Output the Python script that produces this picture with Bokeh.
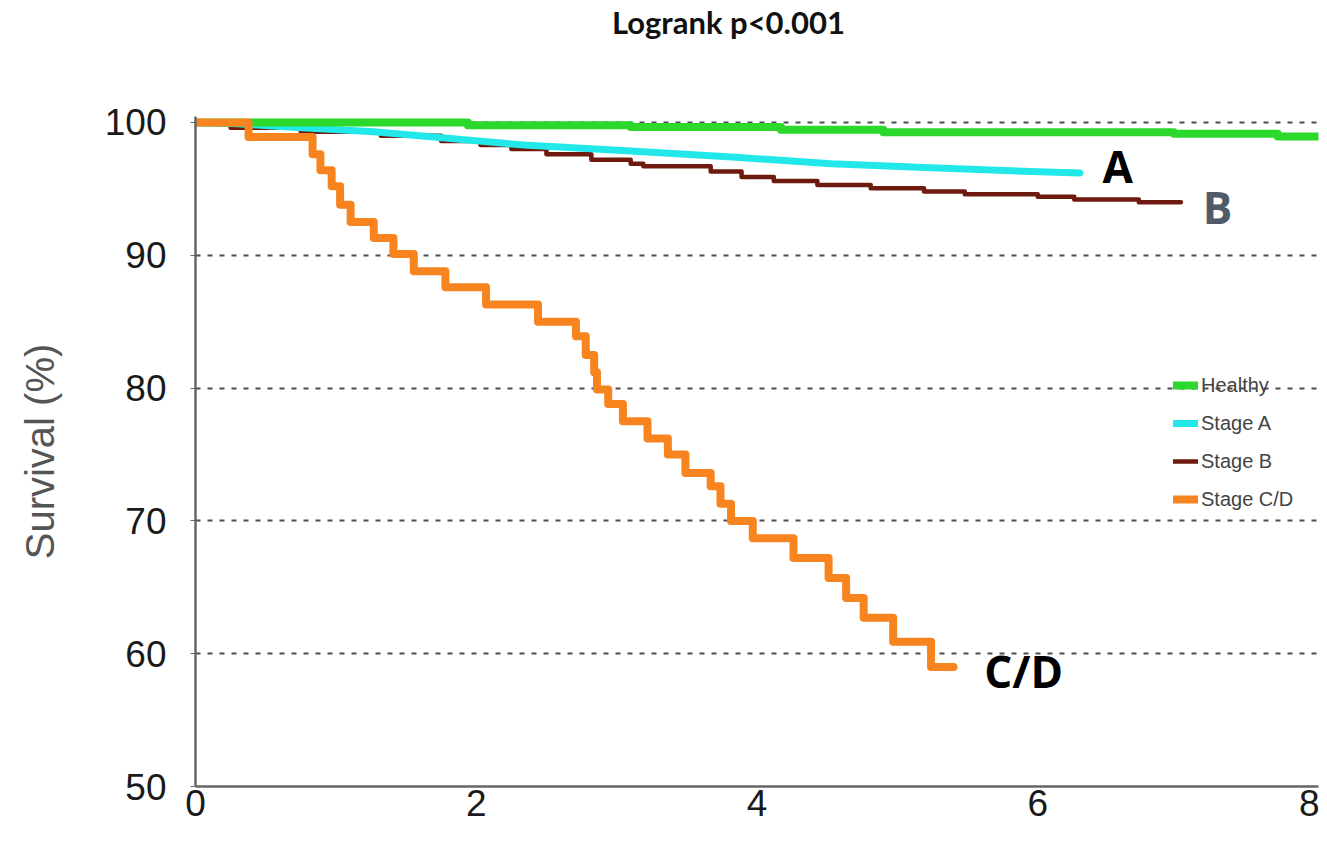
from bokeh.plotting import figure
from bokeh.models import Legend, LegendItem, FixedTicker, Range1d, Div
from bokeh.layouts import column
from bokeh.core.properties import value
from bokeh.embed import file_html
from bokeh.resources import INLINE

# ---- data ----
title_text = "Logrank p<0.001"
y_label = "Survival (%)"
x_ticks = [0, 2, 4, 6, 8]
y_ticks = [50, 60, 70, 80, 90, 100]
grid_ticks = [60, 70, 80, 90, 100]

healthy_t = [0, 1.94, 3.1, 4.17, 4.9, 6.97, 7.71, 8.0]
healthy_s = [100, 99.8, 99.65, 99.45, 99.27, 99.15, 98.95, 98.95]

stageA_t = [0, 0.3, 0.6, 1.27, 2.34, 3.1, 3.82, 4.53, 5.24, 5.95, 6.3]
stageA_s = [100, 99.9, 99.7, 99.3, 98.3, 97.85, 97.4, 96.9, 96.6, 96.3, 96.2]

stageB_t = [0, 0.25, 0.75, 1.32, 1.75, 2.03, 2.25, 2.5, 2.82, 3.1, 3.19, 3.67,
            3.89, 4.12, 4.43, 4.81, 5.19, 5.48, 6.0, 6.26, 6.72, 7.02]
stageB_s = [100, 99.6, 99.3, 99.0, 98.6, 98.3, 98.0, 97.6, 97.2, 96.9, 96.7, 96.3,
            95.9, 95.6, 95.3, 95.05, 94.8, 94.6, 94.4, 94.2, 94.0, 94.0]

stageCD_t = [0, 0.378, 0.834, 0.89, 0.97, 1.03, 1.105, 1.27, 1.41, 1.555, 1.78,
             2.07, 2.44, 2.71, 2.78, 2.84, 2.86, 2.94, 3.045, 3.22, 3.365, 3.49,
             3.67, 3.74, 3.815, 3.97, 4.26, 4.51, 4.635, 4.76, 4.97, 5.24, 5.40]
stageCD_s = [100, 98.9, 97.6, 96.4, 95.2, 93.8, 92.5, 91.3, 90.1, 88.8, 87.6,
             86.3, 85.0, 83.9, 82.5, 81.2, 79.9, 78.8, 77.5, 76.2, 75.0, 73.6,
             72.6, 71.3, 70.0, 68.7, 67.2, 65.7, 64.2, 62.7, 60.9, 59.0, 59.0]

series_names = ["Healthy", "Stage A", "Stage B", "Stage C/D"]
series_colors = ["#2bd82b", "#22e8ea", "#6e1a0e", "#f7841e"]

end_labels = ["A", "B", "C/D"]
end_label_x = [6.57, 7.28, 5.9]
end_label_y = [96.76, 93.6, 58.66]
end_label_colors = ["#000000", "#4f5b66", "#000000"]

# ---- title ----
title = Div(text=title_text, width=300, height=40, margin=(0, 0, 0, 612),
            styles={"font-family": "Lato", "font-weight": "bold",
                    "font-size": "31px", "line-height": "44px",
                    "color": "#111111", "white-space": "nowrap"})

# ---- figure ----
p = figure(width=1319, height=794, output_backend="svg", toolbar_location=None,
           x_range=Range1d(0, 8), y_range=Range1d(50, 100.45),
           min_border_left=195, min_border_right=1, min_border_top=76,
           min_border_bottom=48)
p.outline_line_color = None
p.background_fill_color = "white"
p.border_fill_color = "white"

# axes
for ax in (p.xaxis, p.yaxis):
    ax.axis_line_color = "#666666"
    ax.axis_line_width = 2.5
    ax.major_label_text_font = "Liberation Sans"
    ax.major_label_text_font_size = "37px"
    ax.major_label_text_color = "#1a1a1a"
    ax.minor_tick_line_color = None
    ax.major_tick_line_color = "#666666"

p.xaxis.ticker = FixedTicker(ticks=x_ticks)
p.xaxis.major_tick_out = 0
p.xaxis.major_tick_in = 0
p.xaxis.major_label_standoff = 3

p.yaxis.ticker = FixedTicker(ticks=y_ticks)
p.yaxis.major_tick_out = 5
p.yaxis.major_tick_in = 0
p.yaxis.major_label_standoff = 24
p.yaxis.axis_label = y_label
p.yaxis.axis_label_text_font = "Liberation Sans"
p.yaxis.axis_label_text_font_style = "normal"
p.yaxis.axis_label_text_font_size = "40px"
p.yaxis.axis_label_text_color = "#555555"
p.yaxis.axis_label_standoff = 40

p.xgrid.visible = False
p.ygrid.ticker = FixedTicker(ticks=grid_ticks)
p.ygrid.grid_line_color = "#4d4d4d"
p.ygrid.grid_line_width = 2
p.ygrid.grid_line_dash = "5 7"

# curves
rB = p.step(stageB_t, stageB_s, mode="after", line_color=series_colors[2],
            line_width=4.5, line_join="round", line_cap="round")
rA = p.line(stageA_t, stageA_s, line_color=series_colors[1], line_width=7,
            line_join="round", line_cap="round")
rH = p.step(healthy_t, healthy_s, mode="after", line_color=series_colors[0],
            line_width=8, line_join="round", line_cap="round")
rC = p.step(stageCD_t, stageCD_s, mode="after", line_color=series_colors[3],
            line_width=8, line_join="round", line_cap="round")

# end labels
p.text(x=end_label_x, y=end_label_y, text=end_labels, text_color=end_label_colors,
       text_font=value("Open Sans"), text_font_style="bold", text_font_size="44px",
       text_align="center", text_baseline="middle")

legend = Legend(items=[LegendItem(label=series_names[0], renderers=[rH]),
                       LegendItem(label=series_names[1], renderers=[rA]),
                       LegendItem(label=series_names[2], renderers=[rB]),
                       LegendItem(label=series_names[3], renderers=[rC])],
                location=(978, 270))
legend.background_fill_alpha = 0
legend.border_line_alpha = 0
legend.padding = 0
legend.margin = 0
legend.spacing = 4
legend.label_height = 34
legend.glyph_height = 20
legend.glyph_width = 25
legend.label_standoff = 3
legend.label_text_font = "Liberation Sans"
legend.label_text_font_size = "20px"
legend.label_text_color = "#444444"
p.add_layout(legend)

layout = column(title, p, spacing=0)
open("out.html", "w").write(file_html(layout, INLINE))
